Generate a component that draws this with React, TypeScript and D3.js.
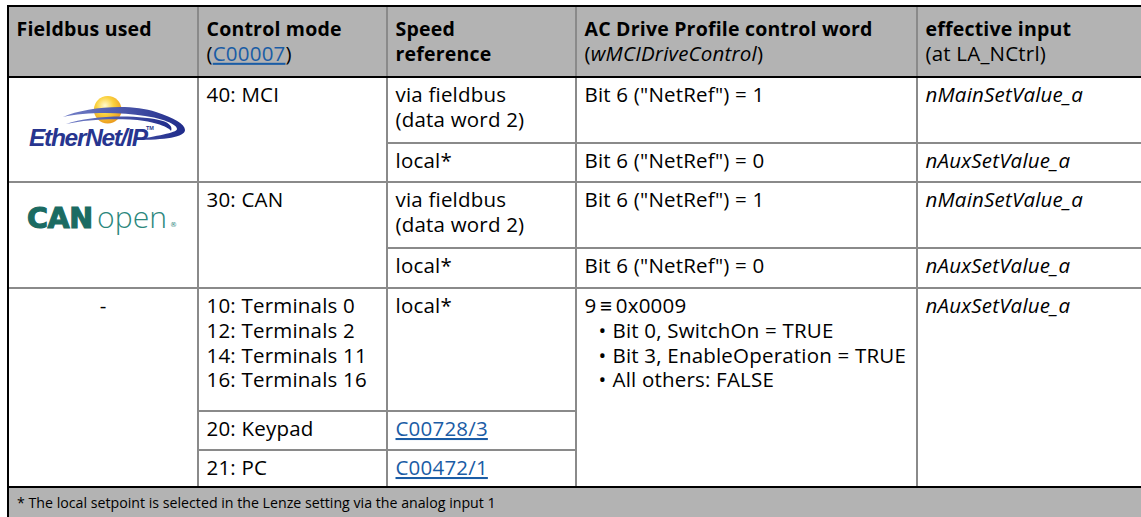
import React from "react";
import * as d3 from "d3";

type Seg = { t: string; i?: boolean; b?: boolean; link?: boolean };

// ---------- data ----------
const headerTitles = ["Fieldbus used", "Control mode", "Speed", "AC Drive Profile control word", "effective input"];
const headerSubs: Seg[][] = [
  [],
  [{ t: "(" }, { t: "C00007", link: true }, { t: ")" }],
  [{ t: "reference", b: true }],
  [{ t: "(" }, { t: "wMCIDriveControl", i: true }, { t: ")" }],
  [{ t: "(at LA_NCtrl)" }],
];
const fieldbuses = ["EtherNet/IP", "CANopen", "-"];
const controlModes: string[][] = [
  ["40: MCI"],
  ["30: CAN"],
  ["10: Terminals 0", "12: Terminals 2", "14: Terminals 11", "16: Terminals 16"],
  ["20: Keypad"],
  ["21: PC"],
];
const speedRefs: Seg[][][] = [
  [[{ t: "via fieldbus" }], [{ t: "(data word 2)" }]],
  [[{ t: "local*" }]],
  [[{ t: "via fieldbus" }], [{ t: "(data word 2)" }]],
  [[{ t: "local*" }]],
  [[{ t: "local*" }]],
  [[{ t: "C00728/3", link: true }]],
  [[{ t: "C00472/1", link: true }]],
];
const controlWords = ['Bit 6 ("NetRef") = 1', 'Bit 6 ("NetRef") = 0', 'Bit 6 ("NetRef") = 1', 'Bit 6 ("NetRef") = 0'];
const controlWordTerminal = "9\u2009\u2261\u20090x0009";
const controlWordBits = ["Bit 0, SwitchOn = TRUE", "Bit 3, EnableOperation = TRUE", "All others: FALSE"];
const effectiveInputs = ["nMainSetValue_a", "nAuxSetValue_a", "nMainSetValue_a", "nAuxSetValue_a", "nAuxSetValue_a"];
const footnote = "* The local setpoint is selected in the Lenze setting via the analog input 1";

// ---------- structure (cell merges) ----------
const fieldbusSpans = [2, 2, 3];
const modeSpans = [2, 2, 1, 1, 1];
const speedSpans = [1, 1, 1, 1, 1, 1, 1];
const wordSpans = [1, 1, 1, 1, 3];
const inputSpans = [1, 1, 1, 1, 3];

// ---------- layout ----------
const W = 1141;
const H = 517;
const tableLeft = 8;
const tableTop = 6;
const colWidths = [190, 189, 189, 341, 260];
const rowHeights = [71, 66, 39, 66, 40, 123, 39, 37];
const lineH = 24.8;
const padX = 8.5;
const FONT = "'Open Sans', 'Noto Sans', sans-serif";
const FS = 20.5;
const FS_HEAD = 19.5;
const FS_FOOT = 14.2;
const LINK = "#1a5ca5";
const GRAY_FILL = "#b3b3b3";
const GRID = "#8a8a8a";

type Cell = { col: number; row: number; span: number; kind: string; lines?: Seg[][]; label?: string };

function buildCells(): Cell[] {
  const cells: Cell[] = [];
  const add = (col: number, spans: number[], make: (i: number) => Partial<Cell>) => {
    let r = 0;
    spans.forEach((s, i) => {
      cells.push({ col, row: r, span: s, kind: "text", ...make(i) } as Cell);
      r += s;
    });
  };
  add(0, fieldbusSpans, (i) =>
    i === 0 ? { kind: "eip", label: fieldbuses[i] } : i === 1 ? { kind: "can", label: fieldbuses[i] } : { kind: "center", label: fieldbuses[i] }
  );
  add(1, modeSpans, (i) => ({ lines: controlModes[i].map((t) => [{ t }]) }));
  add(2, speedSpans, (i) => ({ lines: speedRefs[i] }));
  add(3, wordSpans, (i) => (i < controlWords.length ? { lines: [[{ t: controlWords[i] }]] } : { kind: "bits" }));
  add(4, inputSpans, (i) => ({ lines: [[{ t: effectiveInputs[i], i: true }]] }));
  return cells;
}

function SegText({ segs, x, y, size, weight }: { segs: Seg[]; x: number; y: number; size: number; weight?: number }) {
  return (
    <text x={x} y={y} fontFamily={FONT} fontSize={size} fontWeight={weight ?? 400} fill="#000" letterSpacing={0.2}>
      {segs.map((s, i) => (
        <tspan
          key={i}
          fontStyle={s.i ? "italic" : undefined}
          fontWeight={s.b ? 700 : undefined}
          fill={s.link ? LINK : undefined}
          style={s.link ? { textDecoration: "underline" } : undefined}
        >
          {s.t}
        </tspan>
      ))}
    </text>
  );
}

function EtherNetIPLogo({ x, y, label }: { x: number; y: number; label: string }) {
  return (
    <g transform={`translate(${x},${y})`}>
      <defs>
        <radialGradient id="sph" cx="0.4" cy="0.35" r="0.7">
          <stop offset="0" stopColor="#fffbd0" />
          <stop offset="0.45" stopColor="#fbd23e" />
          <stop offset="1" stopColor="#e9961c" />
        </radialGradient>
        <linearGradient id="sw" x1="0" x2="1" y1="0" y2="0">
          <stop offset="0" stopColor="#7480c8" />
          <stop offset="1" stopColor="#1f2b8a" />
        </linearGradient>
      </defs>
      <circle cx={80.7} cy={14.7} r={13.8} fill="url(#sph)" />
      <path
        d="M36,22 C58,12 103,8 129,17 C147,23 158,29 158,35 C158,42 138,45 108,45 C128,41 150,38 150,34 C150,29 134,23 118,21 C93,17 58,17 36,22 Z"
        fill="url(#sw)"
      />
      <path
        d="M39,29 C63,20 113,19 136,26 C142,28 146,32 144,36 C141,31 123,25.5 103,24.5 C78,23.5 58,25 39,29 Z"
        fill="url(#sw)"
      />
      <text x={2} y={51} fontFamily="'Liberation Sans', Arial, sans-serif" fontWeight={700} fontStyle="italic" fontSize={24.5} letterSpacing={-1.3} fill="#27358f">
        {label}
      </text>
      <text x={119} y={35} fontFamily="'Liberation Sans', Arial, sans-serif" fontWeight={700} fontSize={5.5} fill="#27358f">
        TM
      </text>
    </g>
  );
}

function CANopenLogo({ x, y, label }: { x: number; y: number; label: string }) {
  const strong = label.slice(0, 3);
  const light = label.slice(3);
  return (
    <g transform={`translate(${x},${y})`}>
      <text x={0} y={23} fontFamily="'DejaVu Sans', sans-serif" fontWeight={700} fontSize={28.5} fill="#1b6b62" stroke="#1b6b62" strokeWidth={1.2} letterSpacing={-0.3}>
        {strong}
      </text>
      <text x={70} y={23} fontFamily="'Open Sans', sans-serif" fontWeight={300} fontSize={30} fill="#2b877d" textLength={70} lengthAdjust="spacingAndGlyphs">
        {light}
      </text>
      <text x={143} y={22} fontFamily="'DejaVu Sans', sans-serif" fontSize={7} fill="#2b877d">
        ®
      </text>
    </g>
  );
}

export default function App() {
  const colEdges = [tableLeft, ...Array.from(d3.cumsum(colWidths), (v) => v + tableLeft)];
  const rowEdges = [tableTop, ...Array.from(d3.cumsum(rowHeights), (v) => v + tableTop)];
  const bodyTop = (r: number) => rowEdges[r + 1];
  const tableBottom = rowEdges[rowEdges.length - 1];
  const xRight = (c: number) => (c === colWidths.length - 1 ? W : colEdges[c + 1]);
  const cells = buildCells();

  return (
    <svg width={W} height={H} style={{ position: "absolute", left: 0, top: 0, display: "block", background: "#fff" }}>
      <rect x={0} y={0} width={W} height={H} fill="#fff" />
      {/* header + footer fills */}
      <rect x={tableLeft} y={tableTop} width={W - tableLeft} height={rowHeights[0]} fill={GRAY_FILL} />
      <rect x={tableLeft} y={tableBottom} width={W - tableLeft} height={H - tableBottom} fill={GRAY_FILL} />

      {/* header text */}
      {headerTitles.map((t, c) => (
        <g key={c}>
          <SegText segs={[{ t }]} x={colEdges[c] + padX} y={tableTop + 30} size={FS_HEAD} weight={700} />
          {headerSubs[c].length > 0 && (
            <SegText segs={headerSubs[c]} x={colEdges[c] + padX} y={tableTop + 30 + lineH} size={c === 2 ? FS_HEAD : FS} />
          )}
        </g>
      ))}

      {/* body cells */}
      {cells.map((cell, k) => {
        const x0 = colEdges[cell.col];
        const y0 = bodyTop(cell.row);
        const tx = x0 + padX;
        const ty = y0 + 25;
        let content: React.ReactNode = null;
        if (cell.kind === "eip") content = <EtherNetIPLogo x={x0 + 19} y={y0 + 18} label={cell.label!} />;
        else if (cell.kind === "can") content = <CANopenLogo x={x0 + 19} y={y0 + 23} label={cell.label!} />;
        else if (cell.kind === "center")
          content = (
            <text x={(x0 + colEdges[cell.col + 1]) / 2} y={ty} textAnchor="middle" fontFamily={FONT} fontSize={FS}>
              {cell.label}
            </text>
          );
        else if (cell.kind === "bits")
          content = (
            <g>
              <SegText segs={[{ t: controlWordTerminal }]} x={tx} y={ty} size={FS} />
              {controlWordBits.map((b, i) => (
                <g key={i}>
                  <text x={tx + 14} y={ty + lineH * (i + 1)} fontFamily={FONT} fontSize={FS}>
                    •
                  </text>
                  <SegText segs={[{ t: b }]} x={tx + 28} y={ty + lineH * (i + 1)} size={FS} />
                </g>
              ))}
            </g>
          );
        else
          content = (cell.lines || []).map((segs, i) => <SegText key={i} segs={segs} x={tx} y={ty + i * lineH} size={FS} />);
        return <g key={k}>{content}</g>;
      })}

      {/* footer text */}
      <text x={tableLeft + 9} y={tableBottom + 21} fontFamily={FONT} fontSize={FS_FOOT} fill="#000">
        {footnote}
      </text>

      {/* gray grid: column separators */}
      {colEdges.slice(1, colWidths.length).map((cx, i) => (
        <line key={"v" + i} x1={cx} x2={cx} y1={tableTop} y2={tableBottom} stroke={GRID} strokeWidth={2} />
      ))}
      {/* gray grid: cell top borders */}
      {cells
        .filter((c) => c.row > 0)
        .map((c, i) => (
          <line
            key={"h" + i}
            x1={c.col === 0 ? tableLeft : colEdges[c.col]}
            x2={xRight(c.col)}
            y1={bodyTop(c.row)}
            y2={bodyTop(c.row)}
            stroke={GRID}
            strokeWidth={2}
          />
        ))}

      {/* black outer rules */}
      <line x1={tableLeft - 1} x2={W} y1={tableTop} y2={tableTop} stroke="#000" strokeWidth={2} />
      <line x1={tableLeft} x2={tableLeft} y1={tableTop - 1} y2={H} stroke="#000" strokeWidth={2} />
      <line x1={tableLeft} x2={W} y1={rowEdges[1]} y2={rowEdges[1]} stroke="#000" strokeWidth={2} />
      <line x1={tableLeft} x2={W} y1={tableBottom} y2={tableBottom} stroke="#000" strokeWidth={2} />
    </svg>
  );
}
